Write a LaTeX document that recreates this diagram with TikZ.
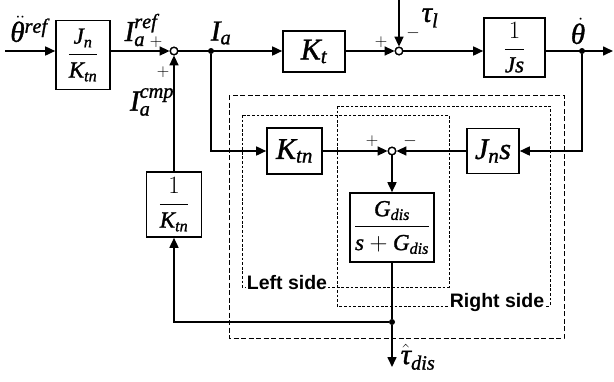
\documentclass[tikz,border=0pt]{standalone}
\usepackage{amsmath}
\usepackage{fontspec}
\setmainfont{Liberation Serif}[ItalicFeatures={FakeBold=1.2}]
\newfontfamily\lblfont{Liberation Sans}
\newcommand\mi[1]{\mathit{#1}}
\newcommand\gk[1]{\text{\itshape #1}}
\usetikzlibrary{arrows.meta}
\begin{document}
\begin{tikzpicture}[x=1pt,y=-1pt,
  blk/.style={draw,line width=1.6pt,inner sep=0pt,font=\fontsize{23}{27}\selectfont},
  bigf/.style={font=\fontsize{30}{34}\selectfont},
  sumj/.style={circle,draw,fill=white,line width=1.3pt,minimum size=7.5pt,inner sep=0pt},
  dotj/.style={circle,fill=black,minimum size=6pt,inner sep=0pt},
  sig/.style={line width=1.6pt},
  arr/.style={sig,-{Triangle[length=10pt,width=9pt]}},
  lab/.style={font=\fontsize{29}{33}\selectfont,inner sep=0pt},
  sgn/.style={font=\fontsize{19}{22}\selectfont,inner sep=0pt},
  outerd/.style={line width=1pt,dash pattern=on 5pt off 2.5pt},
  innerd/.style={line width=0.9pt,dash pattern=on 2.8pt off 1.8pt},
  side/.style={font=\lblfont\bfseries\fontsize{19.5}{22}\selectfont,fill=white,inner sep=1pt}
]
\useasboundingbox (0,0) rectangle (614,381);
% dashed regions
\draw[outerd] (229,95) rectangle (564,338);
\draw[innerd] (242,115) rectangle (449,287);
\draw[innerd] (337,106) rectangle (550,306);
% blocks
\node[blk,minimum width=54pt,minimum height=69pt] (b1) at (83,55) {$\dfrac{\mi{J}_{\mi{n}}}{\mi{K}_{\mi{tn}}}$};
\node[sumj] (s1) at (174,51) {};
\node[dotj] (d1) at (211,51) {};
\node[blk,bigf,minimum width=62pt,minimum height=41pt] (Kt) at (314,51.5) {$\mi{K}_{\mi{t}}$};
\node[sumj] (s2) at (399,51) {};
\node[blk,minimum width=61pt,minimum height=59pt] (Js) at (514.5,47.5) {$\dfrac{1}{\mi{Js}}$};
\node[dotj] (d2) at (582,51) {};
\coordinate (in) at (5,51);
\coordinate (out) at (613,51);
\coordinate (top) at (399,0);
\node[blk,bigf,minimum width=52pt,minimum height=45pt] (Jns) at (493,151) {$\mi{J}_{\mi{n}}\mi{s}$};
\node[sumj] (s3) at (392,151) {};
\node[blk,bigf,minimum width=55pt,minimum height=46pt] (Ktn) at (294.5,151) {$\mi{K}_{\mi{tn}}$};
\node[blk,minimum width=84pt,minimum height=69pt] (G) at (392,227.5) {$\dfrac{\mi{G}_{\mi{dis}}}{\mi{s}+\mi{G}_{\mi{dis}}}$};
\node[dotj] (d3) at (392,322) {};
\coordinate (tau) at (392,367);
\node[blk,minimum width=55pt,minimum height=65pt] (inv) at (174,204.5) {$\dfrac{1}{\mi{K}_{\mi{tn}}}$};
% connectors
\draw[arr] (in) -- (b1.west|-in);
\draw[arr] (b1.east|-s1) -- (s1);
\draw[arr] (s1) -- (Kt.west|-s1);
\draw[arr] (Kt.east|-s2) -- (s2);
\draw[arr] (top) -- (s2);
\draw[arr] (s2) -- (Js.west|-s2);
\draw[arr] (Js.east|-d2) -- (out);
\draw[arr] (d2) |- (Jns.east);
\draw[arr] (Jns.west) -- (s3);
\draw[arr] (d1) |- (Ktn.west);
\draw[arr] (Ktn.east) -- (s3);
\draw[arr] (s3) -- (G.north);
\draw[sig] (G.south) -- (d3);
\draw[arr] (d3) -- (tau);
\draw[arr] (d3) -| (inv.south);
\draw[arr] (inv.north) -- (s1);
% redraw junction circles on top
\node[sumj] at (s1) {};
\node[sumj] at (s2) {};
\node[sumj] at (s3) {};
% labels
\node[lab] (l1) at (29,29) {$\ddot{\gk{θ}\mkern4mu}\mkern-4mu^{\mi{ref}}$};
\node[lab] (l2) at (141,30) {$\mi{I}_{\mi{a}}^{\mi{ref}}$};
\node[sgn] (p1) at (156,42) {$+$};
\node[sgn] (p2) at (163,72) {$+$};
\node[lab] (l3) at (152,102) {$\mi{I}_{\mi{a}}^{\mi{cmp}}$};
\node[lab] (l4) at (221,33) {$\mi{I}_{\mi{a}}$};
\node[lab] (l5) at (430,18) {$\gk{τ}_{\mi{l}}$};
\node[sgn] (p3) at (381,42) {$+$};
\node[sgn] (m1) at (413,33) {$-$};
\node[lab] (l6) at (578,31) {$\dot{\gk{θ}\mkern4mu}\mkern-4mu$};
\node[sgn] (p4) at (372,141) {$+$};
\node[sgn] (m2) at (410,141) {$-$};
\node[lab] (l7) at (418,357) {$\hat{\gk{τ}}_{\mi{dis}}$};
\node[side] (ls) at (287,283) {Left side};
\node[side] (rs) at (497,302) {Right side};
\end{tikzpicture}
\end{document}
